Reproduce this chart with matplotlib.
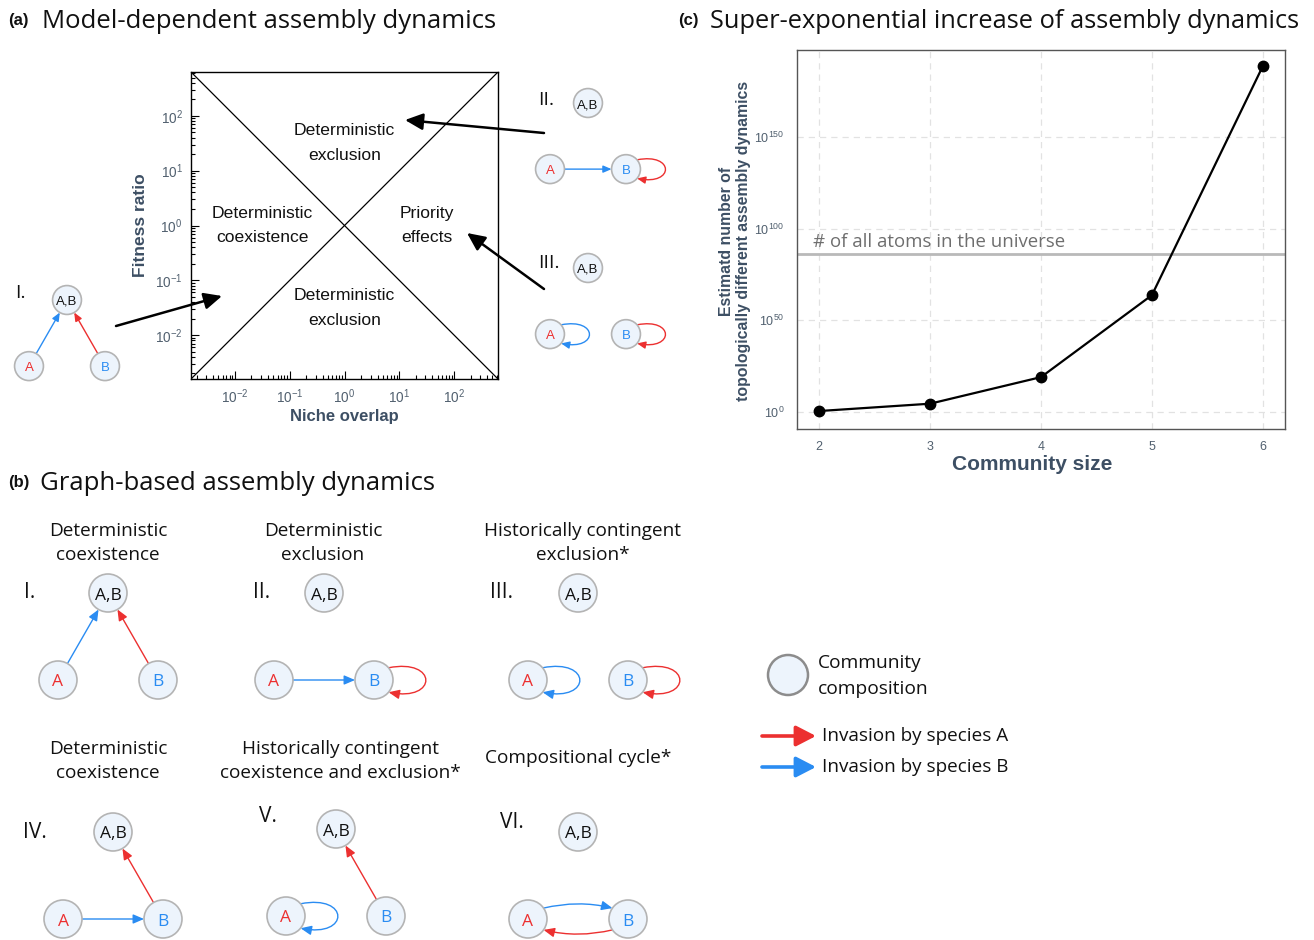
import matplotlib
matplotlib.use("Agg")
import matplotlib.pyplot as plt
import numpy as np
from matplotlib.patches import Circle, FancyArrowPatch, ArrowStyle
from matplotlib.path import Path
from matplotlib.ticker import FixedLocator, FuncFormatter, LogLocator, NullFormatter, NullLocator

plt.rcParams['font.family'] = ['Liberation Sans', 'DejaVu Sans']
plt.rcParams['mathtext.default'] = 'regular'

# ---------------- data ----------------
niche_tick_exponents = [-2, -1, 0, 1, 2]
fitness_tick_exponents = [-2, -1, 0, 1, 2]
axis_range_exponent = 2.8

region_names = ["Deterministic\nexclusion", "Deterministic\ncoexistence",
                "Priority\neffects", "Deterministic\nexclusion"]
region_niche_exp = [0.0, -1.5, 1.5, 0.0]
region_fitness_exp = [1.5, 0.0, 0.0, -1.5]

community_size = [2, 3, 4, 5, 6]
dynamics_log10 = [0.5, 4.5, 19.0, 63.7, 188.6]
atoms_log10 = 86
c_ytick_exponents = [0, 50, 100, 150]
atoms_label = "# of all atoms in the universe"

graph_numerals = ["I.", "II.", "III.", "IV.", "V.", "VI."]
graph_titles = ["Deterministic\ncoexistence", "Deterministic\nexclusion",
                "Historically contingent\nexclusion*", "Deterministic\ncoexistence",
                "Historically contingent\ncoexistence and exclusion*", "Compositional cycle*"]
# (source, target, invading species)
graph_edges = [
    [("A", "AB", "B"), ("B", "AB", "A")],
    [("A", "B", "B"), ("B", "B", "A")],
    [("A", "A", "B"), ("B", "B", "A")],
    [("A", "B", "B"), ("B", "AB", "A")],
    [("A", "A", "B"), ("B", "AB", "A")],
    [("A", "B", "B"), ("B", "A", "A")],
]
node_labels = {"AB": "A,B", "A": "A", "B": "B"}
legend_labels = ["Community\ncomposition", "Invasion by species A", "Invasion by species B"]
panel_titles = [("(a)", "Model-dependent assembly dynamics"),
                ("(b)", "Graph-based assembly dynamics"),
                ("(c)", "Super-exponential increase of assembly dynamics")]

# ---------------- style ----------------
RED = "#ec3030"
BLUE = "#2a8cf2"
NODE_FC = "#edf4fc"
NODE_EC = "#b4b4b4"
SLATE = "#3d4f64"
TICKC = "#51606f"
label_colors = {"AB": "#111111", "A": RED, "B": BLUE}
DIAG_FONT = ["Open Sans", "DejaVu Sans"]

W, H = 1314, 940
fig = plt.figure(figsize=(W / 100, H / 100), dpi=100)

# ---------------- panel (a) plot ----------------
axA = fig.add_axes([191 / W, 1 - 379 / H, 307 / W, 307 / H])
lo, hi = 10.0 ** -axis_range_exponent, 10.0 ** axis_range_exponent
axA.set_xscale("log")
axA.set_yscale("log")
axA.set_xlim(lo, hi)
axA.set_ylim(lo, hi)
axA.plot([lo, hi], [lo, hi], color="black", lw=0.9)
axA.plot([lo, hi], [hi, lo], color="black", lw=0.9)
fmt = FuncFormatter(lambda v, p: r"$10^{%d}$" % int(round(np.log10(v))))
axA.xaxis.set_major_locator(FixedLocator([10.0 ** e for e in niche_tick_exponents]))
axA.yaxis.set_major_locator(FixedLocator([10.0 ** e for e in fitness_tick_exponents]))
axA.xaxis.set_major_formatter(fmt)
axA.yaxis.set_major_formatter(fmt)
axA.xaxis.set_minor_locator(LogLocator(base=10, subs=np.arange(2, 10), numticks=30))
axA.yaxis.set_minor_locator(LogLocator(base=10, subs=np.arange(2, 10), numticks=30))
axA.xaxis.set_minor_formatter(NullFormatter())
axA.yaxis.set_minor_formatter(NullFormatter())
axA.tick_params(which="both", direction="in", top=False, right=False,
                labelcolor=TICKC, labelsize=9.8, width=0.8)
axA.tick_params(which="major", length=6, pad=6)
axA.tick_params(which="minor", length=3)
for s in axA.spines.values():
    s.set_linewidth(1.0)
for name, xe, ye in zip(region_names, region_niche_exp, region_fitness_exp):
    axA.text(10.0 ** xe, 10.0 ** ye, name, ha="center", va="center", fontsize=12.6,
             linespacing=1.8, color="#111111")
axA.set_xlabel("Niche overlap", fontsize=12, fontweight="bold", color=SLATE, labelpad=2)
axA.set_ylabel("Fitness ratio", fontsize=12.5, fontweight="bold", color=SLATE, labelpad=5)

# ---------------- panel (c) plot ----------------
axC = fig.add_axes([797 / W, 1 - 429 / H, 488 / W, 379 / H])
axC.set_yscale("log")
yvals = [10.0 ** v for v in dynamics_log10]
axC.set_xlim(1.8, 6.2)
axC.set_ylim(10.0 ** -9.3, 10.0 ** 197.4)
axC.grid(True, ls=(0, (5, 4)), color="#e2e2e2", lw=0.9)
axC.set_axisbelow(True)
axC.axhline(10.0 ** atoms_log10, color="#b9b9b9", lw=2.0, zorder=2)
axC.plot(community_size, yvals, color="black", lw=1.6, marker="o", ms=7.5, zorder=3)
axC.text(1.944, 10.0 ** 92.5, atoms_label, color="#6e6e6e", fontsize=13.4,
         family=DIAG_FONT, ha="left", va="center")
axC.xaxis.set_major_locator(FixedLocator(community_size))
axC.yaxis.set_major_locator(FixedLocator([10.0 ** e for e in c_ytick_exponents]))
axC.yaxis.set_minor_locator(NullLocator())
axC.yaxis.set_major_formatter(fmt)
axC.tick_params(length=0, labelcolor=TICKC, labelsize=9, pad=9)
for s in axC.spines.values():
    s.set_color("#555555")
    s.set_linewidth(1.0)
axC.set_xlabel("Community size", fontsize=15, fontweight="bold", color=SLATE)
axC.xaxis.set_label_coords((1032 - 797) / 488, -(455 - 429) / 379)
axC.set_ylabel("Estimatd number of\ntopologically different assembly dynamics",
               fontsize=11.4, fontweight="bold", color=SLATE, linespacing=1.2)
axC.yaxis.set_label_coords(-(797 - 751) / 488, (429 - 241) / 379)

# ---------------- overlay for diagrams ----------------
ov = fig.add_axes([0, 0, 1, 1], zorder=10)
ov.set_xlim(0, W)
ov.set_ylim(H, 0)
ov.axis("off")
ov.patch.set_alpha(0)

# panel titles
title_pos = [(8, 21, 42, 18.5), (8, 482, 40, 18.5), (678, 21, 710, 18.3)]
for (tag, txt), (x, y, x2, fs) in zip(panel_titles, title_pos):
    ov.text(x, y, tag, ha="left", va="center", fontsize=12, fontweight="bold", color="#111111")
    ov.text(x2, y + 1, txt, ha="left", va="center", fontsize=fs, family=DIAG_FONT,
            color="#111111")


def thin_style(scale):
    return ArrowStyle("-|>", head_length=0.65 * scale, head_width=0.28 * scale)


def draw_graph(ab, edges, scale, font, fs):
    r = 19 * scale
    dx, dy = 50 * scale, 87 * scale
    pos = {"AB": ab, "A": (ab[0] - dx, ab[1] + dy), "B": (ab[0] + dx, ab[1] + dy)}
    for key, (x, y) in pos.items():
        ov.add_patch(Circle((x, y), r, fc=NODE_FC, ec=NODE_EC, lw=1.2, zorder=3))
        ov.text(x, y + 0.5, node_labels[key], color=label_colors[key], ha="center",
                va="center_baseline", fontsize=fs, family=font, zorder=4)
    pairs = {(s, t) for s, t, _ in edges}
    for src, dst, sp in edges:
        col = RED if sp == "A" else BLUE
        cx, cy = pos[src]
        if src == dst:
            a = np.deg2rad(40)
            p0 = (cx + r * np.cos(a), cy - r * np.sin(a))
            p3 = (cx + r * np.cos(a), cy + r * np.sin(a))
            p1 = (cx + r + 45 * scale, cy - 22 * scale)
            p2 = (cx + r + 45 * scale, cy + 22 * scale)
            path = Path([p0, p1, p2, p3], [Path.MOVETO, Path.CURVE4, Path.CURVE4, Path.CURVE4])
            ov.add_patch(FancyArrowPatch(path=path, arrowstyle=thin_style(1),
                                         mutation_scale=10 * scale, color=col,
                                         lw=1.0, zorder=2))
        elif (dst, src) in pairs:
            tx, ty = pos[dst]
            a = np.deg2rad(35)
            sgn = 1 if tx > cx else -1
            vy = -1 if sgn == 1 else 1
            p0 = (cx + sgn * r * np.cos(a), cy + vy * r * np.sin(a))
            p1 = (tx - sgn * r * np.cos(a), ty + vy * r * np.sin(a))
            ov.add_patch(FancyArrowPatch(p0, p1, arrowstyle=thin_style(1),
                                         connectionstyle="arc3,rad=-0.12",
                                         mutation_scale=10 * scale, color=col, lw=1.0,
                                         shrinkA=0, shrinkB=0, zorder=2))
        else:
            tx, ty = pos[dst]
            v = np.array([tx - cx, ty - cy])
            u = v / np.hypot(*v)
            p0 = (cx + u[0] * r, cy + u[1] * r)
            p1 = (tx - u[0] * r, ty - u[1] * r)
            ov.add_patch(FancyArrowPatch(p0, p1, arrowstyle=thin_style(1),
                                         mutation_scale=10 * scale, color=col, lw=1.0,
                                         shrinkA=0, shrinkB=0, zorder=2))


# panel (b) graphs
b_ab = [(108, 593), (324, 593), (578, 593), (113, 832), (336, 829), (578, 832)]
b_num = [(30, 593), (262, 593), (502, 593), (35, 833), (268, 817), (512, 822)]
b_title = [(108, 543), (323, 543), (583, 543), (108, 761), (340, 761), (578, 758)]
for i in range(6):
    draw_graph(b_ab[i], graph_edges[i], 1.0, DIAG_FONT, 12.5)
    ov.text(*b_num[i], graph_numerals[i], ha="center", va="center", fontsize=15,
            family=DIAG_FONT, color="#111111")
    ov.text(*b_title[i], graph_titles[i], ha="center", va="center", fontsize=13.7,
            family=DIAG_FONT, linespacing=1.5, color="#111111")

# panel (a) insets
a_ab = [(67, 300), (588, 103), (588, 268)]
a_num = [(20, 293), (546, 100), (549, 263)]
for i in range(3):
    draw_graph(a_ab[i], graph_edges[i], 0.76, ["Liberation Sans"], 9.5)
    ov.text(*a_num[i], graph_numerals[i], ha="center", va="center", fontsize=14,
            family=DIAG_FONT, color="#111111")

big = ArrowStyle("-|>", head_length=0.9, head_width=0.42)
for p0, p1 in [((116, 326), (222, 296)), ((544, 133), (405, 120)), ((544, 289), (467, 233))]:
    ov.add_patch(FancyArrowPatch(p0, p1, arrowstyle=big, mutation_scale=12, color="black",
                                 lw=1.8, shrinkA=0, shrinkB=0, zorder=12))

# legend
ov.add_patch(Circle((788, 675), 20, fc=NODE_FC, ec="#8c8c8c", lw=1.8, zorder=3))
ov.text(818, 676, legend_labels[0], ha="left", va="center", fontsize=13.8,
        family=DIAG_FONT, linespacing=1.55, color="#111111")
leg = ArrowStyle("-|>", head_length=1.2, head_width=0.62)
for y, col, lab in [(736, RED, legend_labels[1]), (767, BLUE, legend_labels[2])]:
    ov.add_patch(FancyArrowPatch((762, y), (816, y), arrowstyle=leg, mutation_scale=10,
                                 color=col, lw=2.6, shrinkA=0, shrinkB=0, zorder=3))
    ov.text(822, y, lab, ha="left", va="center", fontsize=13.6, family=DIAG_FONT,
            color="#111111")

fig.savefig("out.png", dpi=100)
